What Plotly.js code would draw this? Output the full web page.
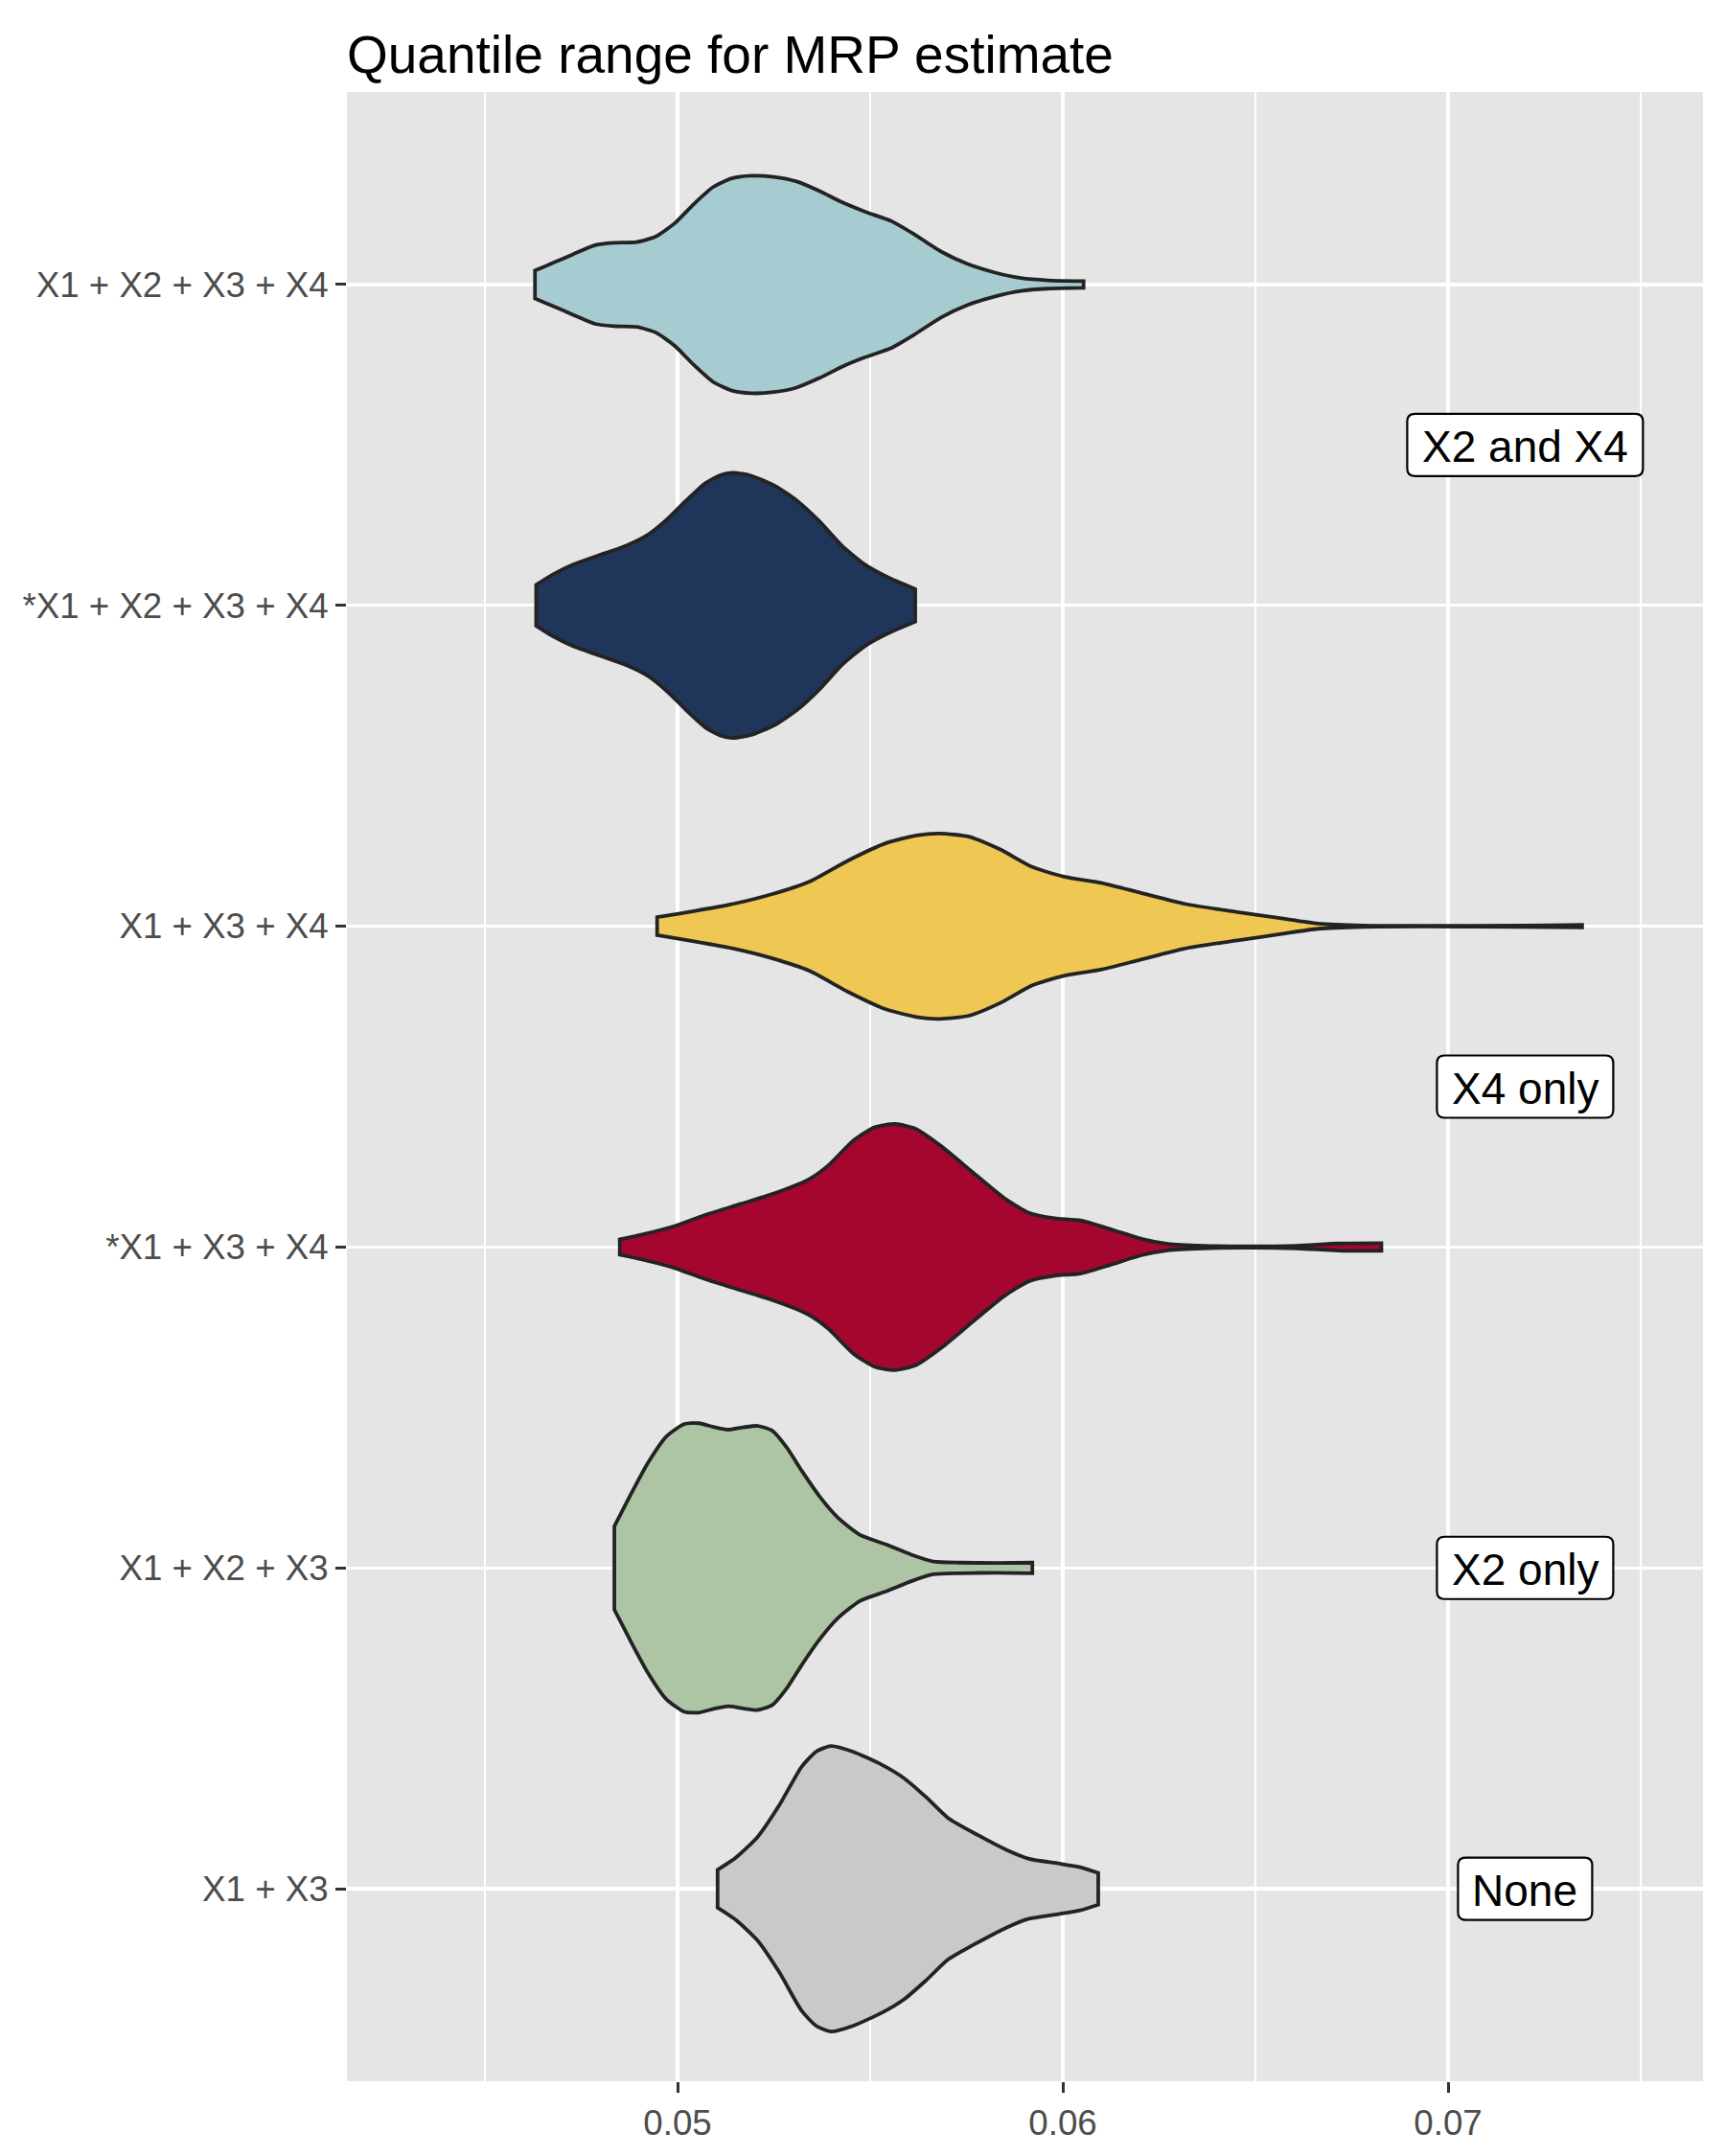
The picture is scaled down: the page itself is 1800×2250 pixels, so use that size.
<!DOCTYPE html>
<html>
<head>
<meta charset="utf-8">
<script src="https://cdn.plot.ly/plotly-3.0.1.min.js"></script>
<style>html,body{margin:0;padding:0;background:#fff;}#chart{width:1800px;height:2250px;}</style>
</head>
<body>
<div id="chart"></div>
<script>
// Categories, bottom to top
const categories = ["X1 + X3", "X1 + X2 + X3", "*X1 + X3 + X4", "X1 + X3 + X4", "*X1 + X2 + X3 + X4", "X1 + X2 + X3 + X4"];

// Violin profiles: estimate value (x) and half-width (in category units)
const v_x1x3_x = [0.05104,0.05151,0.05208,0.05265,0.05322,0.05360,0.05398,0.05455,0.05531,0.05588,0.05645,0.05702,0.05779,0.05855,0.05912,0.05988,0.06045,0.06092];
const v_x1x3_w = [0.0590,0.0968,0.1617,0.2621,0.3802,0.4274,0.4451,0.4274,0.3861,0.3447,0.2857,0.2208,0.1677,0.1204,0.0933,0.0791,0.0673,0.0496];

const v_x1x2x3_x = [0.04836,0.04875,0.04923,0.04971,0.05018,0.05056,0.05094,0.05132,0.05170,0.05208,0.05246,0.05284,0.05322,0.05370,0.05417,0.05474,0.05541,0.05607,0.05664,0.05731,0.05826,0.05921];
const v_x1x2x3_w = [0.1299,0.2208,0.3270,0.4097,0.4486,0.4510,0.4392,0.4309,0.4380,0.4427,0.4274,0.3743,0.3034,0.2208,0.1558,0.1027,0.0732,0.0413,0.0201,0.0165,0.0153,0.0165];

const v_sx1x3x4_x = [0.04850,0.04911,0.04991,0.05071,0.05164,0.05244,0.05338,0.05391,0.05458,0.05512,0.05565,0.05618,0.05685,0.05765,0.05846,0.05912,0.05979,0.06046,0.06126,0.06206,0.06273,0.06366,0.06473,0.06607,0.06714,0.06827];
const v_sx1x3x4_w = [0.0239,0.0398,0.0647,0.0996,0.1345,0.1643,0.2092,0.2540,0.3337,0.3735,0.3835,0.3685,0.3137,0.2341,0.1544,0.1066,0.0896,0.0827,0.0548,0.0249,0.0100,0.0040,0.0020,0.0040,0.0110,0.0120];

const v_x1x3x4_x = [0.04947,0.05046,0.05145,0.05244,0.05343,0.05442,0.05541,0.05624,0.05682,0.05756,0.05838,0.05921,0.06003,0.06102,0.06201,0.06317,0.06449,0.06564,0.06663,0.06779,0.06944,0.07192,0.07348];
const v_x1x3x4_w = [0.0279,0.0478,0.0697,0.0996,0.1394,0.2042,0.2590,0.2839,0.2888,0.2789,0.2390,0.1843,0.1544,0.1345,0.1046,0.0697,0.0448,0.0249,0.0080,0.0020,0.0010,0.0020,0.0040];

const v_sx1x2x3x4_x = [0.04633,0.04677,0.04727,0.04796,0.04865,0.04924,0.04973,0.05023,0.05072,0.05112,0.05146,0.05191,0.05250,0.05309,0.05368,0.05427,0.05487,0.05546,0.05617];
const v_sx1x2x3x4_w = [0.0638,0.0968,0.1264,0.1559,0.1854,0.2209,0.2681,0.3272,0.3803,0.4063,0.4134,0.4039,0.3744,0.3272,0.2622,0.1854,0.1264,0.0874,0.0508];

const v_x1x2x3x4_x = [0.04630,0.04677,0.04727,0.04786,0.04835,0.04894,0.04944,0.04993,0.05042,0.05092,0.05141,0.05191,0.05250,0.05309,0.05368,0.05427,0.05487,0.05556,0.05615,0.05684,0.05753,0.05822,0.05891,0.05961,0.06054];
const v_x1x2x3x4_w = [0.0437,0.0673,0.0933,0.1228,0.1299,0.1323,0.1500,0.1913,0.2504,0.3035,0.3307,0.3390,0.3354,0.3212,0.2917,0.2563,0.2268,0.1972,0.1559,0.1028,0.0638,0.0378,0.0201,0.0130,0.0106];

// Annotation labels
const labelText = ["X2 and X4", "X4 only", "X2 only", "None"];
const labelY = [5.5, 3.5, 2, 1];
const labelX = [0.072, 0.072, 0.072, 0.072];

// Styles
const fills = ["#C9C9C9", "#ADC5A4", "#A4062F", "#EFC853", "#1F3559", "#A6CBD1"];
const boxW = [246, 184, 184, 140];
const boxH = 65;

const profiles = [
  [v_x1x3_x, v_x1x3_w],
  [v_x1x2x3_x, v_x1x2x3_w],
  [v_sx1x3x4_x, v_sx1x3x4_w],
  [v_x1x3x4_x, v_x1x3x4_w],
  [v_sx1x2x3x4_x, v_sx1x2x3x4_w],
  [v_x1x2x3x4_x, v_x1x2x3x4_w]
];

const traces = profiles.map(function (p, i) {
  const xs = p[0], ws = p[1], c = i + 1, n = xs.length;
  const x = [], y = [];
  // top edge, left to right (corner points repeated so the flat ends stay sharp)
  x.push(xs[0]); y.push(c + ws[0]);
  for (let k = 0; k < n; k++) { x.push(xs[k]); y.push(c + ws[k]); }
  x.push(xs[n - 1]); y.push(c + ws[n - 1]);
  // bottom edge, right to left
  x.push(xs[n - 1]); y.push(c - ws[n - 1]);
  for (let k = n - 1; k >= 0; k--) { x.push(xs[k]); y.push(c - ws[k]); }
  x.push(xs[0]); y.push(c - ws[0]);
  x.push(xs[0]); y.push(c + ws[0]);
  return {
    type: "scatter", mode: "lines", x: x, y: y,
    fill: "toself", fillcolor: fills[i],
    line: {color: "#232323", width: 3.8, shape: "spline", smoothing: 0.6},
    hoverinfo: "skip", showlegend: false
  };
});

function roundRect(w, h, r) {
  const a = w / 2, b = h / 2;
  return "M " + (-a + r) + "," + (-b) + " L " + (a - r) + "," + (-b) +
    " Q " + a + "," + (-b) + " " + a + "," + (-b + r) +
    " L " + a + "," + (b - r) + " Q " + a + "," + b + " " + (a - r) + "," + b +
    " L " + (-a + r) + "," + b + " Q " + (-a) + "," + b + " " + (-a) + "," + (b - r) +
    " L " + (-a) + "," + (-b + r) + " Q " + (-a) + "," + (-b) + " " + (-a + r) + "," + (-b) + " Z";
}

const shapes = labelText.map(function (t, i) {
  return {
    type: "path", xref: "x", yref: "y",
    xsizemode: "pixel", ysizemode: "pixel",
    xanchor: labelX[i], yanchor: labelY[i],
    path: roundRect(boxW[i], boxH, 8),
    fillcolor: "#FFFFFF", line: {color: "#000000", width: 2.2}, layer: "above"
  };
});

const annotations = labelText.map(function (t, i) {
  return {
    x: labelX[i], y: labelY[i], xref: "x", yref: "y",
    text: t, showarrow: false, xanchor: "center", yanchor: "middle",
    font: {family: "Liberation Sans, Arial, sans-serif", size: 46, color: "#000000"},
    yshift: -2
  };
});

const layout = {
  width: 1800, height: 2250,
  margin: {l: 362, r: 23, t: 96, b: 78, pad: 0},
  paper_bgcolor: "#FFFFFF", plot_bgcolor: "#E5E5E5",
  font: {family: "Liberation Sans, Arial, sans-serif", color: "#4D4D4D"},
  title: {
    text: "Quantile range for MRP estimate",
    font: {family: "Liberation Sans, Arial, sans-serif", size: 55, color: "#000000"},
    xref: "paper", x: 0, xanchor: "left",
    yref: "container", y: 1 - 76 / 2250, yanchor: "bottom"
  },
  xaxis: {
    range: [0.041418, 0.076617],
    tick0: 0.05, dtick: 0.01, tickformat: ".2f",
    ticks: "outside", ticklen: 11, tickwidth: 3, tickcolor: "#333333",
    tickfont: {size: 36.7, color: "#4D4D4D"},
    showgrid: true, gridcolor: "#FFFFFF", gridwidth: 3.5,
    minor: {tick0: 0.045, dtick: 0.005, showgrid: true, gridcolor: "#FFFFFF", gridwidth: 1.8, ticks: ""},
    zeroline: false, showline: false, fixedrange: true
  },
  yaxis: {
    range: [0.4, 6.6],
    tickmode: "array", tickvals: [1, 2, 3, 4, 5, 6], ticktext: categories,
    ticks: "outside", ticklen: 11, tickwidth: 3, tickcolor: "#333333",
    tickfont: {size: 36.7, color: "#4D4D4D"},
    showgrid: true, gridcolor: "#FFFFFF", gridwidth: 3.5,
    zeroline: false, showline: false, fixedrange: true
  },
  shapes: shapes,
  annotations: annotations,
  showlegend: false
};

Plotly.newPlot("chart", traces, layout, {staticPlot: true, displayModeBar: false});
</script>
</body>
</html>
